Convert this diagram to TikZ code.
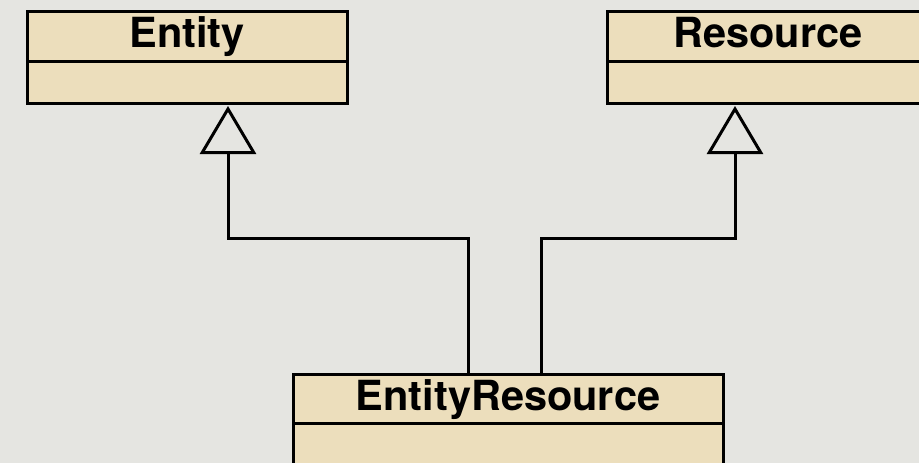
\documentclass[tikz,border=0pt]{standalone}
\usepackage{fontspec}
\setmainfont{TeX Gyre Heros}
\usetikzlibrary{positioning,arrows.meta}

\definecolor{paper}{RGB}{229,229,225}
\definecolor{classfill}{RGB}{236,222,188}

\begin{document}
\begin{tikzpicture}[x=1pt,y=-1pt,inner sep=0pt,outer sep=0pt,line width=3pt,
classhead/.style={draw,rectangle,fill=classfill,minimum height=50pt,text height=30pt,text depth=7pt,
  font=\fontsize{41.5}{48}\selectfont\bfseries},
classbody/.style={draw,rectangle,fill=classfill},
inherit/.style={-{Triangle[open,length=48pt,width=56pt]},shorten >=3pt}]

\useasboundingbox (0,0) rectangle (919,463);
\clip (0,0) rectangle (919,463);
\fill[paper] (0,0) rectangle (919,463);

% base classes
\node[classhead,minimum width=320pt] (enthead) at (187,36) {Entity};
\node[classbody,minimum width=320pt,minimum height=42pt,below=0pt of enthead] (entbody) {};
\node[classhead,minimum width=322pt] (reshead) at (768,36) {Resource};
\node[classbody,minimum width=322pt,minimum height=42pt,below=0pt of reshead] (resbody) {};

% derived class
\node[classhead,minimum width=430pt,minimum height=49pt] (erhead) at (508,398.5) {EntityResource};
\node[classbody,minimum width=430pt,minimum height=50pt,below=0pt of erhead] (erbody) {};

% generalization
\coordinate (bendL) at (228,238);
\coordinate (bendR) at (735,238);
\draw[inherit] ([xshift=-40pt]erhead.north) |- (bendL) -- (bendL |- entbody.south);
\draw[inherit] ([xshift=33pt]erhead.north) |- (bendR) -- (bendR |- resbody.south);
\end{tikzpicture}
\end{document}
